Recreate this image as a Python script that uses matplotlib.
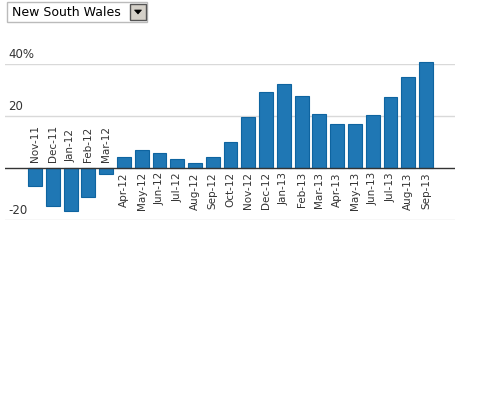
import matplotlib
matplotlib.use("Agg")
import matplotlib.pyplot as plt
from matplotlib.patches import Rectangle, Polygon

months = ["Nov-11", "Dec-11", "Jan-12", "Feb-12", "Mar-12", "Apr-12", "May-12",
          "Jun-12", "Jul-12", "Aug-12", "Sep-12", "Oct-12", "Nov-12", "Dec-12",
          "Jan-13", "Feb-13", "Mar-13", "Apr-13", "May-13", "Jun-13", "Jul-13",
          "Aug-13", "Sep-13"]
values = [-6.8, -14.5, -16.4, -11.0, -2.4, 4.2, 6.8, 5.6, 3.3, 1.8, 4.2, 9.9,
          19.6, 29.1, 32.3, 27.6, 20.8, 16.8, 16.8, 20.3, 27.2, 34.9, 40.6]
y_ticks = [-20, 20, 40]
y_tick_labels = ["-20", "20", "40%"]
region = "New South Wales"

W, H = 480, 400
fig = plt.figure(figsize=(W / 100, H / 100), dpi=100)
fig.patch.set_facecolor("white")

ax = fig.add_axes([5 / W, (H - 220) / H, 450 / W, 156 / H])
ax.set_xlim(-1.69, 23.63)
ax.set_ylim(-20, 40)
for s in ax.spines.values():
    s.set_visible(False)
ax.set_xticks([])
ax.set_yticks([])
ax.patch.set_alpha(0)

for t in y_ticks:
    ax.axhline(t, color="#d9d9d9", lw=1, zorder=0)
ax.axhline(0, color="#333333", lw=1, zorder=3)

xs = list(range(len(values)))
bars = ax.bar(xs, values, width=0.78, color="#1f77b4", edgecolor="#0e64a0",
              linewidth=0.8, zorder=2)
for b in bars:
    b.set_clip_on(False)

for x, v, m in zip(xs, values, months):
    if v < 0:
        ax.annotate(m, (x, 0), xytext=(0, 4), textcoords="offset points",
                    rotation=90, ha="center", va="bottom", fontsize=7.5,
                    color="#333333")
    else:
        ax.annotate(m, (x, 0), xytext=(0, -3), textcoords="offset points",
                    rotation=90, ha="center", va="top", fontsize=7.5,
                    color="#333333")

for t, lab in zip(y_ticks, y_tick_labels):
    ax.annotate(lab, (-1.69, t), xytext=(2.5, 2.5), textcoords="offset points",
                ha="left", va="bottom", fontsize=8.5, color="#333333")

# dropdown widget
def px(x, y):
    return x / W, (H - y) / H

x0, y0 = px(7, 22)
fig.patches.append(Rectangle((x0, y0), 140 / W, 20 / H, transform=fig.transFigure,
                             facecolor="white", edgecolor="#bbbbbb", lw=1))
bx, by = px(130, 20)
fig.patches.append(Rectangle((bx, by), 16 / W, 16 / H, transform=fig.transFigure,
                             facecolor="#d4d0c8", edgecolor="#555555", lw=1))
tri = [px(134.5, 10), px(141.5, 10), px(138, 14)]
fig.patches.append(Polygon(tri, closed=True, transform=fig.transFigure,
                           facecolor="black", edgecolor="black", lw=0.5))
tx, ty = px(12, 12.5)
fig.text(tx, ty, region, ha="left", va="center", fontsize=9, color="black")

fig.savefig("out.png", dpi=100, facecolor="white")
